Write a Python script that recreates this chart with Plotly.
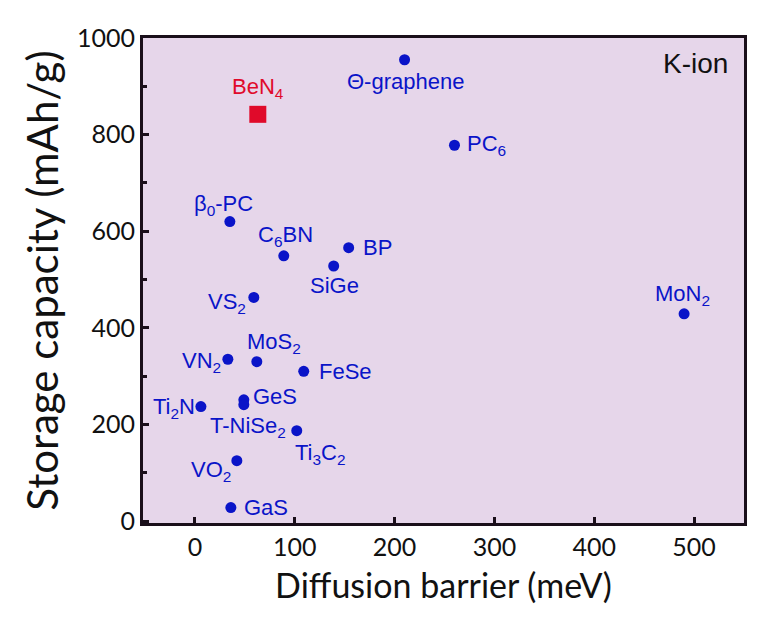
import plotly.graph_objects as go

# diffusion barrier (meV) and storage capacity (mAh/g)
names = ["Θ-graphene", "PC<sub>6</sub>", "β<sub>0</sub>-PC", "C<sub>6</sub>BN", "BP", "SiGe",
         "VS<sub>2</sub>", "MoN<sub>2</sub>", "VN<sub>2</sub>", "MoS<sub>2</sub>", "FeSe", "GeS",
         "T-NiSe<sub>2</sub>", "Ti<sub>2</sub>N", "Ti<sub>3</sub>C<sub>2</sub>", "VO<sub>2</sub>", "GaS"]
barrier = [210, 260, 35, 89, 154, 139, 59, 490, 33, 62, 109, 49, 49, 6, 102, 42, 36]
capacity = [955, 778, 620, 549, 566, 528, 463, 429, 335, 330, 310, 251, 241, 237, 187, 125, 28]

ben4_barrier = [63]
ben4_capacity = [842]

# label offsets in pixels (dx, dy, anchor)
offsets = [(1, -22, "center"), (11, 0, "left"), (-6, 17, "center"), (2, 20, "center"),
           (12, 0, "left"), (1, -19, "center"), (-6, -6, "right"), (-2, 19, "center"),
           (-5, -3, "right"), (17, 19, "center"), (13, 0, "left"), (7, 3, "left"),
           (4, -22, "center"), (-4, -1, "right"), (24, -23, "center"), (-26, -10, "center"),
           (11, 0, "left")]

blue = "#0a14c8"
red = "#e00a2a"
label_font = "Liberation Sans"

fig = go.Figure()
fig.add_trace(go.Scatter(x=barrier, y=capacity, mode="markers",
                         marker=dict(color=blue, size=11, symbol="circle"),
                         showlegend=False, hoverinfo="skip"))
fig.add_trace(go.Scatter(x=ben4_barrier, y=ben4_capacity, mode="markers",
                         marker=dict(color=red, size=17, symbol="square"),
                         showlegend=False, hoverinfo="skip"))

for n, bx, cy, (dx, dy, anc) in zip(names, barrier, capacity, offsets):
    fig.add_annotation(x=bx, y=cy, text=n, showarrow=False, xshift=dx, yshift=dy,
                       xanchor=anc, font=dict(family=label_font, size=22, color=blue))

fig.add_annotation(x=ben4_barrier[0], y=ben4_capacity[0], text="BeN<sub>4</sub>", showarrow=False,
                   yshift=26, font=dict(family=label_font, size=22, color=red))

fig.add_annotation(x=1, y=1, xref="paper", yref="paper", text="K-ion", showarrow=False,
                   xanchor="right", yanchor="top", xshift=-14, yshift=-8,
                   font=dict(family=label_font, size=28, color="#111111"))

axis_style = dict(showline=True, linecolor="#1a0f1a", linewidth=3, mirror=True,
                  ticks="inside", ticklen=6, tickwidth=3, tickcolor="#1a0f1a",
                  showgrid=False, zeroline=False,
                  tickfont=dict(family="Lato", size=25, color="#111111"))

fig.update_layout(
    width=772, height=639,
    margin=dict(l=135, r=36, t=30, b=124),
    paper_bgcolor="white",
    plot_bgcolor="#e6d6ea",
    xaxis=dict(range=[-52, 550], tickvals=[0, 100, 200, 300, 400, 500],
               title=dict(text="Diffusion barrier (meV)", standoff=15,
                          font=dict(family="Lato", size=34, color="#111111")),
               **axis_style),
    yaxis=dict(range=[-4, 1000], tickvals=[0, 200, 400, 600, 800, 1000],
               minor=dict(tickvals=[100, 300, 500, 700, 900], ticks="inside", ticklen=4,
                          tickwidth=3, tickcolor="#1a0f1a"),
               title=dict(text="Storage capacity (mAh/g)", standoff=6,
                          font=dict(family="Lato", size=42, color="#111111")),
               **axis_style),
)

fig.write_html("out.html")
